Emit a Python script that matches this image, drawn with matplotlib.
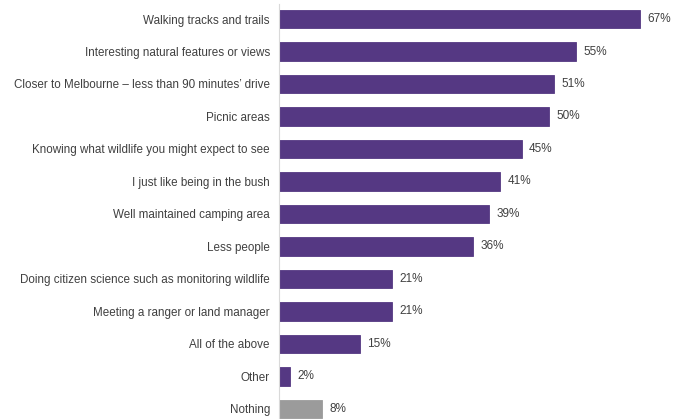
import matplotlib.pyplot as plt

categories = [
    "Walking tracks and trails",
    "Interesting natural features or views",
    "Closer to Melbourne \u2013 less than 90 minutes\u2019 drive",
    "Picnic areas",
    "Knowing what wildlife you might expect to see",
    "I just like being in the bush",
    "Well maintained camping area",
    "Less people",
    "Doing citizen science such as monitoring wildlife",
    "Meeting a ranger or land manager",
    "All of the above",
    "Other",
    "Nothing",
]
values = [67, 55, 51, 50, 45, 41, 39, 36, 21, 21, 15, 2, 8]

purple = "#553883"
grey = "#9b9b9b"
colors = [purple] * (len(values) - 1) + [grey]

plt.rcParams['font.family'] = ['Liberation Sans', 'DejaVu Sans']

fig = plt.figure(figsize=(6.78, 4.19), dpi=100)
ax = fig.add_axes([0.4115, 0, 0.5885, 1])

pos = list(range(len(values)))
ax.barh(pos, values, height=0.58, color=colors, edgecolor=colors, linewidth=0.6)

for p, v in zip(pos, values):
    ax.text(v + 1.4, p, f"{v}%", va='center', ha='left', fontsize=8.5, color='#404040')

ax.set_xlim(0, 74)
ax.set_ylim(12.31, -0.585)
ax.set_yticks(pos)
ax.set_yticklabels(categories, fontsize=8.4, color='#404040')
ax.tick_params(axis='y', length=0, pad=6.5)
ax.set_xticks([])

for s in ['top', 'right', 'bottom']:
    ax.spines[s].set_visible(False)
ax.spines['left'].set_color('#d9d9d9')
ax.spines['left'].set_bounds(-0.45, 12.31)

fig.savefig("out.png", dpi=100)
